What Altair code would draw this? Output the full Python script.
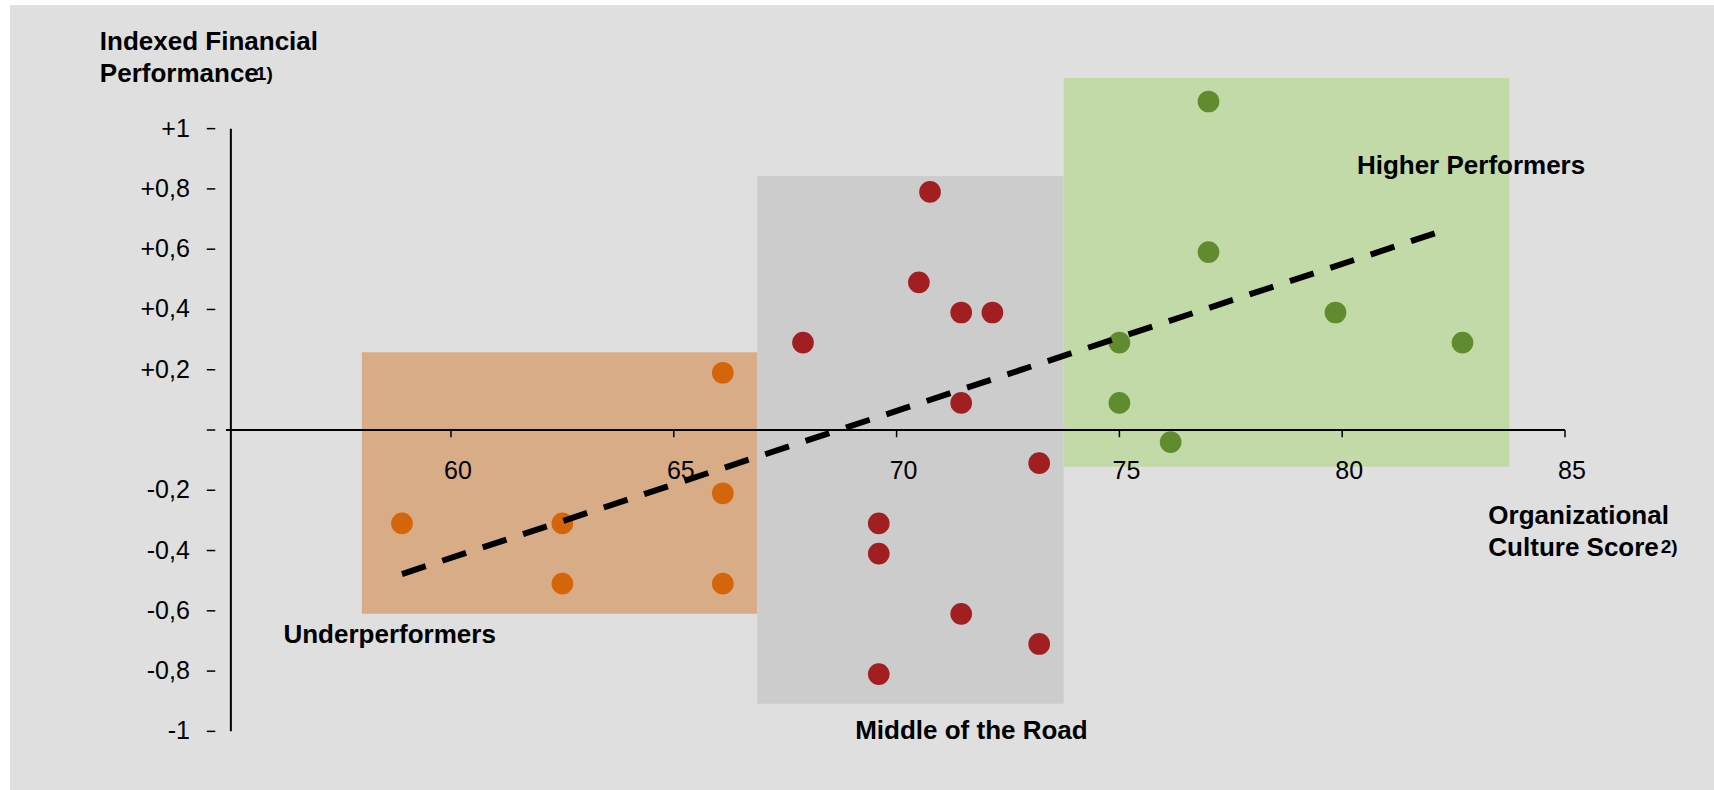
import altair as alt
import pandas as pd

# ---------------- data ----------------
under_x = [58.9, 62.5, 62.5, 66.1, 66.1, 66.1]
under_y = [-0.31, -0.31, -0.51, 0.19, -0.21, -0.51]

middle_x = [67.9, 70.5, 70.75, 71.45, 72.15, 71.45, 73.2, 69.6, 69.6, 71.45, 73.2, 69.6]
middle_y = [0.29, 0.49, 0.79, 0.39, 0.39, 0.09, -0.11, -0.31, -0.41, -0.61, -0.71, -0.81]

higher_x = [75.0, 75.0, 76.15, 77.0, 77.0, 79.85, 82.7]
higher_y = [0.29, 0.09, -0.04, 0.59, 1.09, 0.39, 0.29]

groups = ["Underperformers", "Middle of the Road", "Higher Performers"]
zone_x1 = [58.0, 66.87, 73.75]
zone_x2 = [66.87, 73.75, 83.75]
zone_y1 = [-0.61, -0.908, -0.122]
zone_y2 = [0.258, 0.843, 1.168]

trend_x = [58.9, 82.15]
trend_y = [-0.478, 0.656]

x_ticks = [60, 65, 70, 75, 80, 85]
y_ticks = [1, 0.8, 0.6, 0.4, 0.2, 0, -0.2, -0.4, -0.6, -0.8, -1]
y_tick_labels = ["+1", "+0,8", "+0,6", "+0,4", "+0,2", "", "-0,2", "-0,4", "-0,6", "-0,8", "-1"]

# annotation texts (anchored in data units, left edge / baseline)
ann_text = ["Indexed Financial", "Performance", "Organizational", "Culture Score",
            "Underperformers", "Middle of the Road", "Higher Performers"]
ann_x = [52.12, 52.12, 83.28, 83.28, 56.24, 69.07, 80.33]
ann_y = [1.261, 1.156, -0.312, -0.417, -0.708, -1.025, 0.8485]
sup_text = ["1)", "2)"]
sup_x = [55.62, 87.15]
sup_y = [1.163, -0.408]

# ---------------- tables ----------------
pts = pd.DataFrame({
    "x": under_x + middle_x + higher_x,
    "y": under_y + middle_y + higher_y,
    "group": [groups[0]] * len(under_x) + [groups[1]] * len(middle_x) + [groups[2]] * len(higher_x),
})
zones = pd.DataFrame({"group": groups, "x1": zone_x1, "x2": zone_x2, "y1": zone_y1, "y2": zone_y2})
trend = pd.DataFrame({"x": trend_x, "y": trend_y})
xt = pd.DataFrame({"v": x_ticks, "label": [str(v) for v in x_ticks]})
yt = pd.DataFrame({"v": y_ticks, "label": y_tick_labels})
ann = pd.DataFrame({"text": ann_text, "x": ann_x, "y": ann_y})
sup = pd.DataFrame({"text": sup_text, "x": sup_x, "y": sup_y})

XS = alt.Scale(domain=[49.879, 88.344], nice=False, zero=False)
YS = alt.Scale(domain=[-1.1946, 1.4269], nice=False, zero=False)
FONT = "Liberation Sans"


def X(f, **kw):
    return alt.X(f, type="quantitative", scale=XS, axis=None, **kw)


def Y(f, **kw):
    return alt.Y(f, type="quantitative", scale=YS, axis=None, **kw)


def XD(v):
    return alt.XDatum(v, type="quantitative", scale=XS, axis=None)


def YD(v):
    return alt.YDatum(v, type="quantitative", scale=YS, axis=None)


bg = alt.Chart(alt.Data(values=[{"a": 1}])).mark_rect(color="#dfdfdf").encode(
    x=alt.value(10), x2=alt.value(1714), y=alt.value(5), y2=alt.value(790)
)

zone_layer = alt.Chart(zones).mark_rect().encode(
    x=X("x1"), x2="x2", y=Y("y1"), y2="y2",
    color=alt.Color("group:N", scale=alt.Scale(domain=groups, range=["#d9ac88", "#cccccc", "#c2daa7"]), legend=None),
)

x_axis_line = alt.Chart(alt.Data(values=[{"a": 1}])).mark_rule(color="black", strokeWidth=2).encode(
    x=XD(54.95), x2=alt.X2Datum(85), y=YD(0)
)
y_axis_line = alt.Chart(alt.Data(values=[{"a": 1}])).mark_rule(color="black", strokeWidth=2).encode(
    x=XD(55.06), y=YD(-1), y2=alt.Y2Datum(1)
)

y_tick_marks = alt.Chart(yt).mark_rule(color="black", strokeWidth=1.5).encode(
    x=XD(54.52), x2=alt.X2Datum(54.71), y=Y("v")
)
x_tick_marks = alt.Chart(xt).mark_rule(color="black", strokeWidth=1.5).encode(
    x=X("v"), y=YD(0), y2=alt.Y2Datum(-0.024)
)

y_labels = alt.Chart(yt).mark_text(
    align="right", baseline="middle", font=FONT, fontSize=25, color="black"
).encode(x=XD(54.14), y=Y("v"), text="label:N")

x_labels = alt.Chart(xt).mark_text(
    align="center", baseline="middle", font=FONT, fontSize=25, color="black", dx=7
).encode(x=X("v"), y=YD(-0.136), text="label:N")

trend_layer = alt.Chart(trend).mark_line(
    color="black", strokeWidth=6, strokeDash=[25, 17.5]
).encode(x=X("x"), y=Y("y"))

point_layer = alt.Chart(pts).mark_circle(size=470, opacity=1).encode(
    x=X("x"), y=Y("y"),
    color=alt.Color("group:N", scale=alt.Scale(domain=groups, range=["#d4650a", "#a11f21", "#608b2e"]), legend=None),
)

ann_layer = alt.Chart(ann).mark_text(
    align="left", baseline="alphabetic", font=FONT, fontSize=26, fontWeight="bold", color="black"
).encode(x=X("x"), y=Y("y"), text="text:N")

sup_layer = alt.Chart(sup).mark_text(
    align="left", baseline="alphabetic", font=FONT, fontSize=19, fontWeight="bold", color="black"
).encode(x=X("x"), y=Y("y"), text="text:N")

chart = alt.layer(
    bg, zone_layer, x_axis_line, y_axis_line, y_tick_marks, x_tick_marks,
    y_labels, x_labels, point_layer, trend_layer, ann_layer, sup_layer
).resolve_scale(color="independent").properties(
    width=1714, height=790, padding=0, autosize=alt.AutoSizeParams(type="none"), background="white"
).configure_view(stroke=None)

chart.save("out.html", embed_options={"renderer": "svg", "actions": False})
